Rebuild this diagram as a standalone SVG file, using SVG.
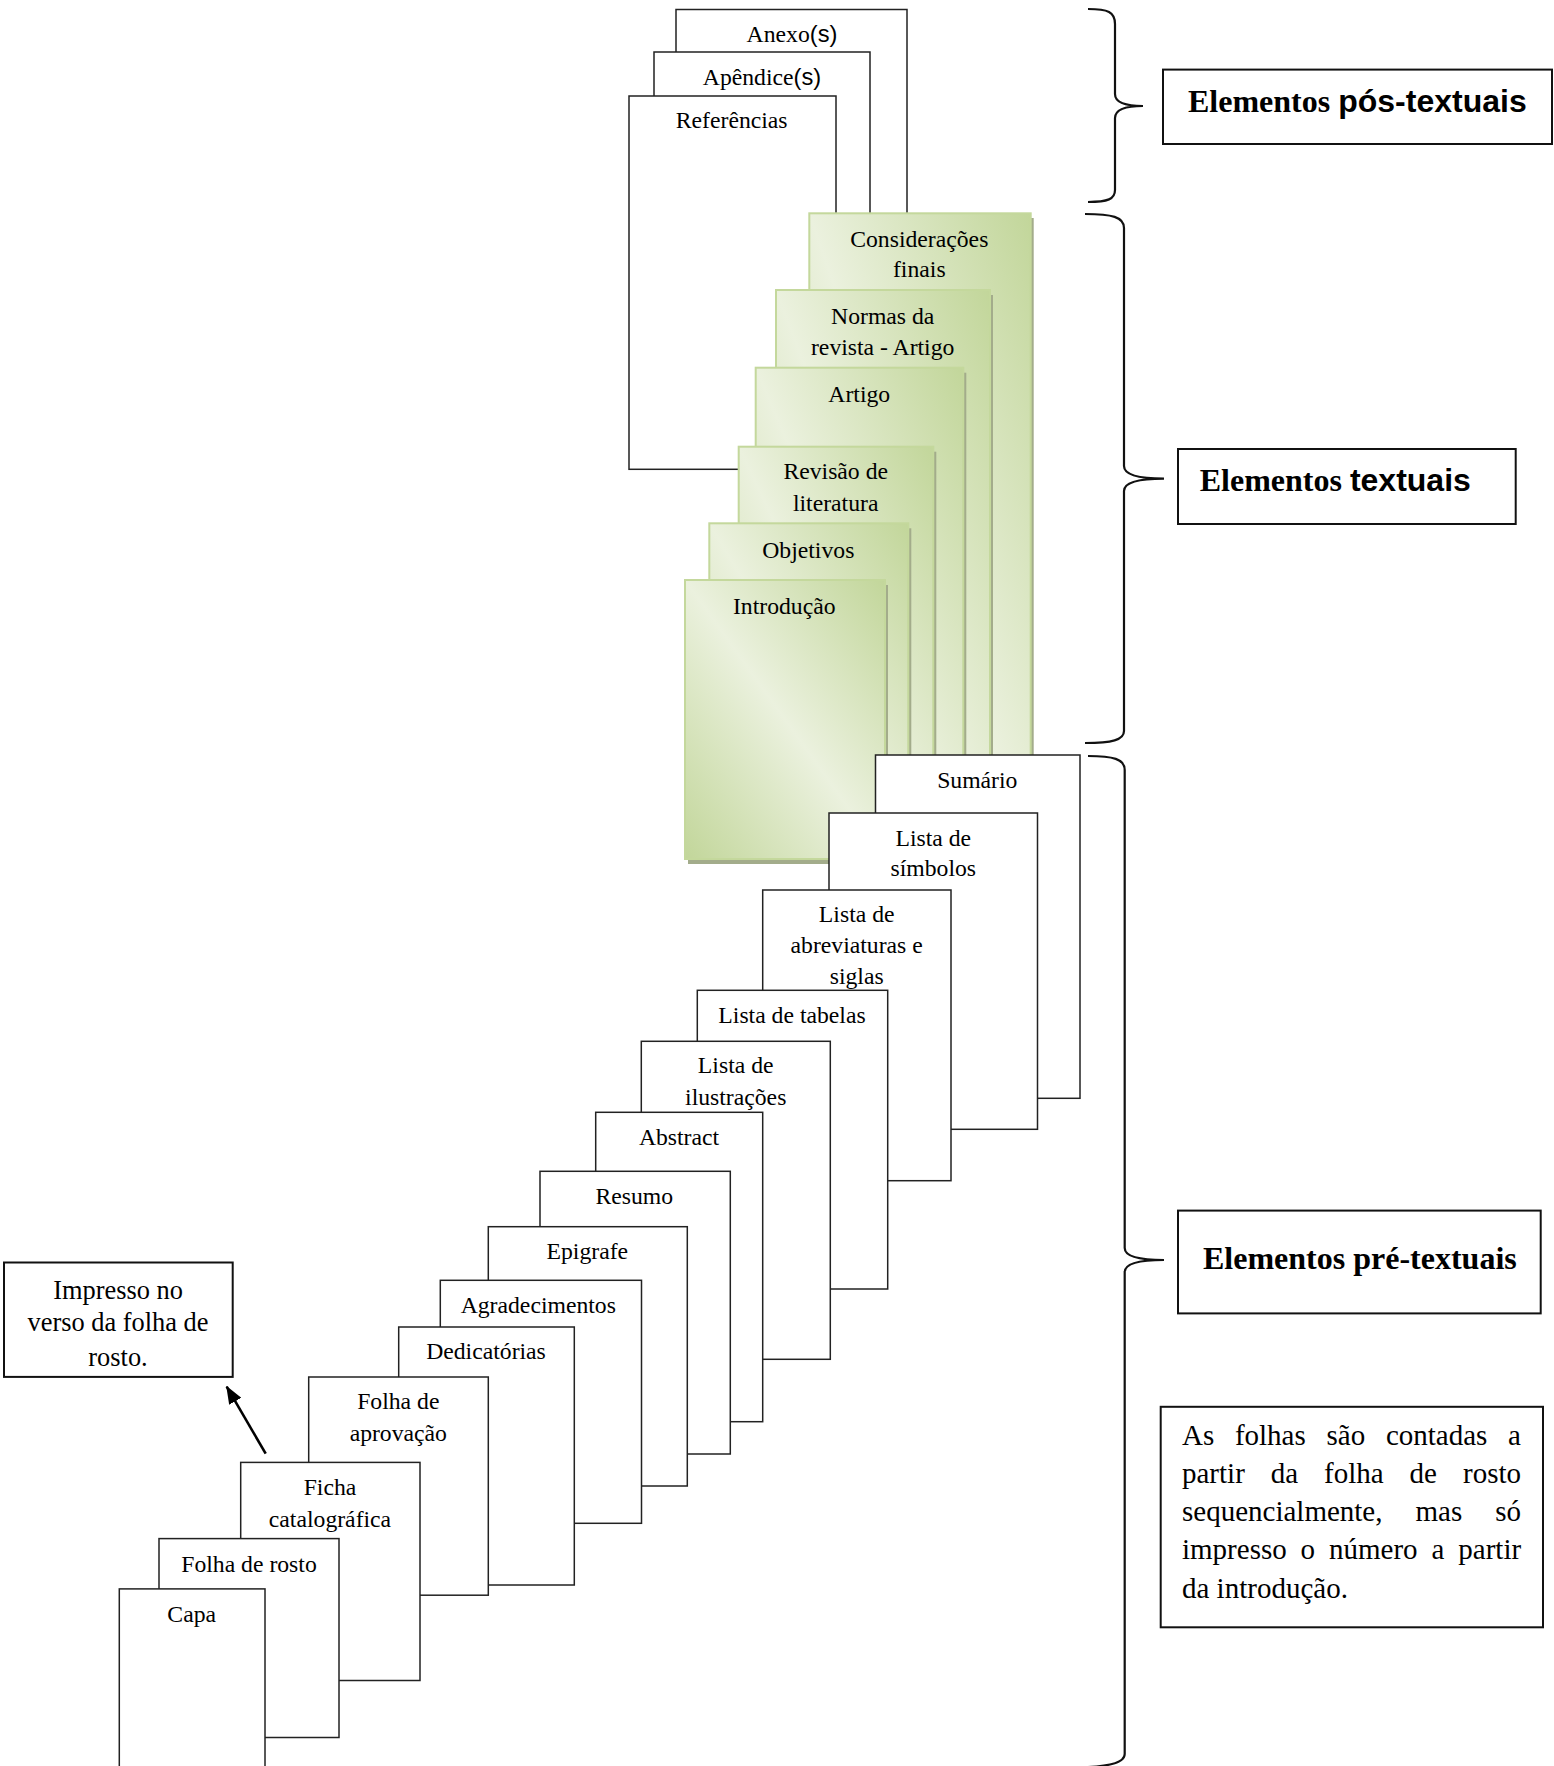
<svg xmlns="http://www.w3.org/2000/svg" width="1554" height="1766" viewBox="0 0 1554 1766">
<style>
.pg{fill:#fff;stroke:#222;stroke-width:1.5}
.gp{fill:url(#gg);stroke:#c4d89c;stroke-width:2}
.sh{fill:#a3ac8b}
.t{font-family:"Liberation Serif","Times New Roman",serif;font-size:23.7px;fill:#000;text-anchor:middle}
.s{font-family:"Liberation Sans",Arial,sans-serif}
.lb{fill:#fff;stroke:#111;stroke-width:2}
.bt{font-family:"Liberation Serif","Times New Roman",serif;font-size:32px;font-weight:bold;fill:#000}
.bs{font-family:"Liberation Sans",Arial,sans-serif}
.nt{font-family:"Liberation Serif","Times New Roman",serif;font-size:29px;fill:#000}
.im{font-family:"Liberation Serif","Times New Roman",serif;font-size:26.4px;fill:#000;text-anchor:middle}
.br{fill:none;stroke:#111;stroke-width:2.2}
</style>
<defs>
<linearGradient id="gg" x1="1" y1="0" x2="0" y2="1">
<stop offset="0" stop-color="#c2d69a"/>
<stop offset="0.5" stop-color="#ebf1de"/>
<stop offset="1" stop-color="#c2d69a"/>
</linearGradient>
<marker id="ah" markerUnits="userSpaceOnUse" markerWidth="18" markerHeight="14" refX="17" refY="7" orient="auto">
<path d="M0,0 L18,7 L0,14 z" fill="#000"/>
</marker>
</defs>

<!-- post-textual pages -->
<g id="anexos"><rect class="pg" x="676" y="9.5" width="231" height="400"/><text class="t" x="792" y="42">Anexo<tspan class="s">(s)</tspan></text></g>
<g id="apendices"><rect class="pg" x="654" y="52" width="216" height="380"/><text class="t" x="762" y="85">Apêndice<tspan class="s">(s)</tspan></text></g>
<g id="referencias"><rect class="pg" x="629" y="96" width="207" height="373.3"/><text class="t" x="731.7" y="127.7">Referências</text></g>

<!-- textual pages -->
<g id="consideracoes"><rect class="sh" x="812.3" y="218" width="221.4" height="645.7"/><rect class="gp" x="809.3" y="213.3" width="221.4" height="645.7"/><text class="t" x="919.3" y="246.7">Considerações</text><text class="t" x="919.3" y="277.3">finais</text></g>
<g id="normas"><rect class="sh" x="779" y="295" width="214" height="568"/><rect class="gp" x="776" y="290" width="214" height="569"/><text class="t" x="882.7" y="324">Normas da</text><text class="t" x="882.7" y="355">revista - Artigo</text></g>
<g id="artigo"><rect class="sh" x="758.7" y="372.7" width="207.6" height="490"/><rect class="gp" x="755.7" y="367.7" width="207.6" height="491"/><text class="t" x="859.3" y="401.7">Artigo</text></g>
<g id="revisao"><rect class="sh" x="741.7" y="451.7" width="194.6" height="411"/><rect class="gp" x="738.7" y="446.7" width="194.6" height="412"/><text class="t" x="835.7" y="479.3">Revisão de</text><text class="t" x="835.7" y="510.7">literatura</text></g>
<g id="objetivos"><rect class="sh" x="712.3" y="528.3" width="199" height="335"/><rect class="gp" x="709.3" y="523.3" width="199" height="335.7"/><text class="t" x="808.3" y="557.7">Objetivos</text></g>
<g id="introducao"><rect class="sh" x="688" y="585" width="200" height="279"/><rect class="gp" x="685" y="580" width="200" height="279"/><text class="t" x="784.3" y="614">Introdução</text></g>

<!-- pre-textual pages -->
<g id="sumario"><rect class="pg" x="875.5" y="755" width="204.5" height="343.3"/><text class="t" x="977.3" y="787.8">Sumário</text></g>
<g id="simbolos"><rect class="pg" x="829" y="813" width="208.5" height="316.3"/><text class="t" x="933.3" y="845.6">Lista de</text><text class="t" x="933.3" y="875.7">símbolos</text></g>
<g id="abreviaturas"><rect class="pg" x="762.7" y="890" width="188.3" height="290.7"/><text class="t" x="856.7" y="921.7">Lista de</text><text class="t" x="856.7" y="952.7">abreviaturas e</text><text class="t" x="856.7" y="984">siglas</text></g>
<g id="tabelas"><rect class="pg" x="697.3" y="990.3" width="190.4" height="298.7"/><text class="t" x="792" y="1022.7">Lista de tabelas</text></g>
<g id="ilustracoes"><rect class="pg" x="641.3" y="1041.3" width="189" height="318"/><text class="t" x="735.7" y="1073.3">Lista de</text><text class="t" x="735.7" y="1105">ilustrações</text></g>
<g id="abstract"><rect class="pg" x="595.7" y="1112.3" width="167" height="309.4"/><text class="t" x="679" y="1145">Abstract</text></g>
<g id="resumo"><rect class="pg" x="540" y="1171.3" width="190.3" height="282.7"/><text class="t" x="634.3" y="1204">Resumo</text></g>
<g id="epigrafe"><rect class="pg" x="488.3" y="1226.7" width="199" height="259.3"/><text class="t" x="587.3" y="1259.3">Epigrafe</text></g>
<g id="agradecimentos"><rect class="pg" x="440.3" y="1280.3" width="201.2" height="243"/><text class="t" x="538.3" y="1312.7">Agradecimentos</text></g>
<g id="dedicatorias"><rect class="pg" x="398.7" y="1327" width="175.6" height="258"/><text class="t" x="486" y="1359">Dedicatórias</text></g>
<g id="aprovacao"><rect class="pg" x="308.7" y="1377" width="179.6" height="218.2"/><text class="t" x="398.3" y="1409.4">Folha de</text><text class="t" x="398.3" y="1440.6">aprovação</text></g>
<g id="ficha"><rect class="pg" x="240.7" y="1462.4" width="179.3" height="218.1"/><text class="t" x="330" y="1495">Ficha</text><text class="t" x="330" y="1526.8">catalográfica</text></g>
<g id="rosto"><rect class="pg" x="159" y="1538.6" width="180" height="198.9"/><text class="t" x="249" y="1572">Folha de rosto</text></g>
<g id="capa"><rect class="pg" x="119.3" y="1588.9" width="145.7" height="200"/><text class="t" x="191.7" y="1622.4">Capa</text></g>

<!-- labels -->
<g id="label-pos"><rect class="lb" x="1163" y="69.6" width="389" height="74.4"/><text class="bt" x="1188" y="112">Elementos <tspan class="bs">pós-textuais</tspan></text></g>
<g id="label-textuais"><rect class="lb" x="1178" y="449" width="337.7" height="75"/><text class="bt" x="1199.7" y="491">Elementos <tspan class="bs">textuais</tspan></text></g>
<g id="label-pre"><rect class="lb" x="1178" y="1210.6" width="362.7" height="102.8"/><text class="bt" x="1203" y="1268.6">Elementos pré-textuais</text></g>
<g id="note"><rect class="lb" x="1160.7" y="1406.8" width="382.3" height="220.5"/>
<text class="nt" y="1444.5"><tspan x="1182">As</tspan><tspan x="1234.9">folhas</tspan><tspan x="1326.5">são</tspan><tspan x="1385.9">contadas</tspan><tspan x="1508.1">a</tspan></text>
<text class="nt" y="1482.8"><tspan x="1182">partir</tspan><tspan x="1270.8">da</tspan><tspan x="1324.1">folha</tspan><tspan x="1409.6">de</tspan><tspan x="1463">rosto</tspan></text>
<text class="nt" y="1521.1"><tspan x="1182">sequencialmente,</tspan><tspan x="1415.5">mas</tspan><tspan x="1495.2">só</tspan></text>
<text class="nt" y="1559.4"><tspan x="1182">impresso</tspan><tspan x="1300.6">o</tspan><tspan x="1329">número</tspan><tspan x="1431.5">a</tspan><tspan x="1458.3">partir</tspan></text>
<text class="nt" y="1597.7"><tspan x="1182">da introdução.</tspan></text>
</g>
<g id="impresso"><rect class="lb" x="4" y="1262.5" width="228.7" height="114.4"/><text class="im" x="118" y="1298.7">Impresso no</text><text class="im" x="118" y="1331.2">verso da folha de</text><text class="im" x="118" y="1365.8">rosto.</text></g>

<!-- connectors: braces and arrow -->
<g id="connectors">
<path class="br" d="M1088,9 C1108,9 1115,12 1115,24 L1115,94 C1115,102 1124,106 1143,106 C1124,106 1115,110 1115,118 L1115,190 C1115,199 1108,202 1088,202"/>
<path class="br" d="M1085,214 C1112,214 1124,217 1124,228 L1124,466 C1124,474 1136,478.6 1164,478.6 C1136,478.6 1124,483 1124,491 L1124,731 C1124,740 1112,743 1085,743"/>
<path class="br" d="M1088,756 C1113,756 1124.7,759 1124.7,770 L1124.7,1248 C1124.7,1256 1137,1260 1164,1260 C1137,1260 1124.7,1264 1124.7,1272 L1124.7,1754 C1124.7,1762 1112,1766 1088,1767"/>
<line x1="265.7" y1="1453.7" x2="226.7" y2="1386.6" stroke="#000" stroke-width="2.6" marker-end="url(#ah)"/>
</g>
</svg>
